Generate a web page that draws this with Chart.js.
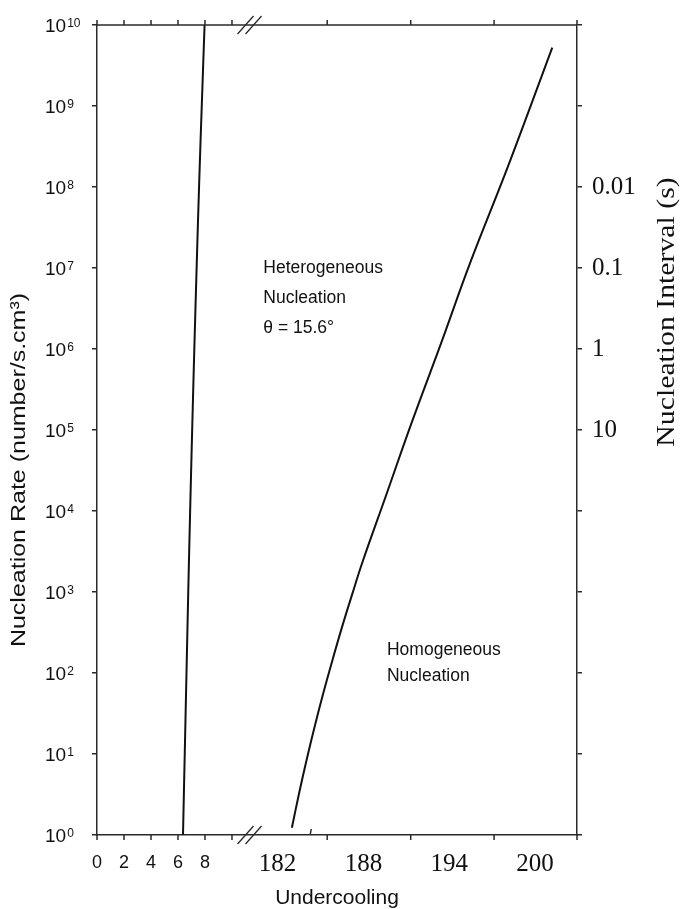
<!DOCTYPE html>
<html>
<head>
<meta charset="utf-8">
<script src="https://cdn.jsdelivr.net/npm/chart.js@4"></script>
<style>
  html, body { margin: 0; padding: 0; background: #fff; }
</style>
</head>
<body>
<canvas id="nucleationChart" width="680" height="909"></canvas>
<script>
'use strict'

//curva heterogénea (tramo izquierdo del eje x)
const hetUndercooling = [6.37, 6.50, 6.63, 6.76, 6.90, 7.05, 7.21, 7.38, 7.56, 7.76, 7.97];
const hetRate = [1e0, 1e1, 1e2, 1e3, 1e4, 1e5, 1e6, 1e7, 1e8, 1e9, 1e10];

//curva homogénea (tramo derecho, despues del corte)
const homUndercooling = [183.00, 183.50, 184.02, 184.58, 185.18, 185.82, 186.49, 187.21, 187.95, 189.61, 191.39, 193.45, 195.46, 198.14, 201.21];
const homRate = [1.23, 3.25, 8.3, 21.4, 55, 141, 361, 929, 2380, 1.6e4, 1.25e5, 1.2e6, 1.15e7, 1.85e8, 5.27e9];

//ticks
const leftTickMarks = [0, 2, 4, 6, 8, 10];
const leftTickLabels = [0, 2, 4, 6, 8];
const rightTickLabels = [182, 188, 194, 200];
const rightTickMarks = [185.47, 191.31, 197.14, 202.94];
const rightInnerMarks = [184.28];
const rateExponents = [0, 1, 2, 3, 4, 5, 6, 7, 8, 9, 10];
const intervalValues = [1e5, 1e6, 1e7, 1e8];
const intervalLabels = ['10', '1', '0.1', '0.01'];

const SANS = "'Liberation Sans', Arial, sans-serif";
const SERIF = "'Liberation Serif', 'Times New Roman', serif";
const INK = '#111';
const AXIS = '#2a2a2a';

function decadeTicks( scale )
{
  scale.ticks = rateExponents.map( e => ({ value: Math.pow( 10, e ) }) );
}

//texto vertical, un poco estirado a lo largo como en la figura original
function verticalText( ctx, text, x, y, font, stretch )
{
  ctx.save();
  ctx.translate( x, y );
  ctx.rotate( -Math.PI / 2 );
  ctx.scale( stretch, 1 );
  ctx.font = font;
  ctx.textAlign = 'center';
  ctx.textBaseline = 'middle';
  ctx.fillText( text, 0, 0 );
  ctx.restore();
}

//todo lo que Chart.js no dibuja solo: borde superior, marcas, corte, etiquetas
const decorations =
{
  id: 'decorations',
  afterDraw( chart )
  {
    const ctx = chart.ctx;
    const area = chart.chartArea;
    const xs = chart.scales.x;
    const xl = chart.scales.xLeft;
    const y = chart.scales.y;

    ctx.save();
    ctx.strokeStyle = AXIS;
    ctx.lineWidth = 1.5;

    //borde superior
    ctx.beginPath();
    ctx.moveTo( area.left, area.top );
    ctx.lineTo( area.right, area.top );
    ctx.stroke();

    //marcas arriba y abajo
    const marks = leftTickMarks.map( v => xl.getPixelForValue( v ) )
      .concat( rightTickMarks.map( v => xs.getPixelForValue( v ) ) );
    ctx.beginPath();
    marks.forEach( px =>
    {
      ctx.moveTo( px, area.top );
      ctx.lineTo( px, area.top - 5 );
      ctx.moveTo( px, area.bottom );
      ctx.lineTo( px, area.bottom + 5 );
    });
    rightInnerMarks.forEach( v =>
    {
      const px = xs.getPixelForValue( v );
      ctx.moveTo( px, area.bottom );
      ctx.lineTo( px + 1, area.bottom - 6 );
    });
    ctx.stroke();

    //corte del eje "//"
    const bx = xl.getPixelForValue( 11.3 );
    ctx.lineWidth = 1.3;
    ctx.beginPath();
    [ area.top, area.bottom ].forEach( by =>
    {
      ctx.moveTo( bx - 12, by + 9 );
      ctx.lineTo( bx + 4, by - 9 );
      ctx.moveTo( bx - 4, by + 9 );
      ctx.lineTo( bx + 12, by - 9 );
    });
    ctx.stroke();

    ctx.fillStyle = INK;

    //etiquetas 0 2 4 6 8
    ctx.font = '18px ' + SANS;
    ctx.textAlign = 'center';
    ctx.textBaseline = 'middle';
    leftTickLabels.forEach( v =>
    {
      ctx.fillText( String( v ), xl.getPixelForValue( v ), area.bottom + 28 );
    });

    //etiquetas 10^n del eje izquierdo
    ctx.textAlign = 'left';
    ctx.textBaseline = 'alphabetic';
    rateExponents.forEach( e =>
    {
      const py = y.getPixelForValue( Math.pow( 10, e ) );
      ctx.font = '19px ' + SANS;
      ctx.fillText( '10', 45, py + 7 );
      const w = ctx.measureText( '10' ).width;
      ctx.font = '12px ' + SANS;
      ctx.fillText( String( e ), 45 + w + 1, py + 2 );
    });

    //titulos verticales
    verticalText( ctx, 'Nucleation Rate (number/s.cm³)', 19, 470, '21px ' + SANS, 1.19 );
    verticalText( ctx, 'Nucleation Interval (s)', 667, 312, '25px ' + SERIF, 1.19 );

    //anotaciones
    ctx.font = '17.5px ' + SANS;
    ctx.textAlign = 'left';
    ctx.textBaseline = 'middle';
    const hx = xs.getPixelForValue( 181.0 );
    const hy = y.getPixelForValue( 1e7 );
    [ 'Heterogeneous', 'Nucleation', 'θ = 15.6°' ].forEach( ( t, i ) =>
    {
      ctx.fillText( t, hx, hy + i * 30 );
    });
    const gx = xs.getPixelForValue( 189.65 );
    const gy = y.getPixelForValue( 190 );
    [ 'Homogeneous', 'Nucleation' ].forEach( ( t, i ) =>
    {
      ctx.fillText( t, gx, gy + i * 26 );
    });

    ctx.restore();
  }
};

const hetData = hetUndercooling.map( ( v, i ) => ({ x: v, y: hetRate[ i ] }) );
const homData = homUndercooling.map( ( v, i ) => ({ x: v, y: homRate[ i ] }) );

const chart = new Chart( document.getElementById( 'nucleationChart' ),
{
  type: 'line',
  data:
  {
    datasets:
    [
      {
        label: 'Heterogeneous',
        data: hetData,
        xAxisID: 'xLeft',
        yAxisID: 'y',
        borderColor: INK,
        borderWidth: 2,
        pointRadius: 0,
        tension: 0.4
      },
      {
        label: 'Homogeneous',
        data: homData,
        xAxisID: 'x',
        yAxisID: 'y',
        borderColor: INK,
        borderWidth: 2,
        pointRadius: 0,
        tension: 0.4
      }
    ]
  },
  options:
  {
    responsive: false,
    animation: false,
    layout: { padding: { left: 8, top: 21, right: 0, bottom: 0 } },
    plugins:
    {
      legend: { display: false },
      tooltip: { enabled: false }
    },
    scales:
    {
      x:
      {
        type: 'linear',
        position: 'bottom',
        min: 169.37,
        max: 202.94,
        afterBuildTicks: s => { s.ticks = rightTickLabels.map( v => ({ value: v }) ); },
        afterFit: s => { s.height = 74; },
        grid: { display: false, drawTicks: false },
        border: { display: true, color: AXIS, width: 1.5 },
        ticks:
        {
          padding: 14,
          autoSkip: false,
          maxRotation: 0,
          color: INK,
          font: { family: SERIF, size: 25 }
        },
        title:
        {
          display: true,
          text: 'Undercooling',
          color: INK,
          padding: 0,
          font: { family: SANS, size: 21, lineHeight: 1.0 }
        }
      },
      xLeft:
      {
        type: 'linear',
        display: false,
        min: 0,
        max: 35.56
      },
      y:
      {
        type: 'logarithmic',
        position: 'left',
        min: 1,
        max: 1e10,
        afterBuildTicks: decadeTicks,
        afterFit: s => { s.width = 89; },
        grid: { drawOnChartArea: false, tickLength: 5, color: AXIS, lineWidth: 1.5 },
        border: { display: true, color: AXIS, width: 1.5 },
        ticks: { callback: () => '' }
      },
      y2:
      {
        type: 'logarithmic',
        position: 'right',
        min: 1,
        max: 1e10,
        afterBuildTicks: decadeTicks,
        afterFit: s => { s.width = 103; },
        grid: { drawOnChartArea: false, tickLength: 5, color: AXIS, lineWidth: 1.5 },
        border: { display: true, color: AXIS, width: 1.5 },
        ticks:
        {
          padding: 10,
          color: INK,
          font: { family: SERIF, size: 25 },
          callback: v =>
          {
            const i = intervalValues.indexOf( v );
            return i >= 0 ? intervalLabels[ i ] : '';
          }
        }
      }
    }
  },
  plugins: [ decorations ]
});
</script>
</body>
</html>
